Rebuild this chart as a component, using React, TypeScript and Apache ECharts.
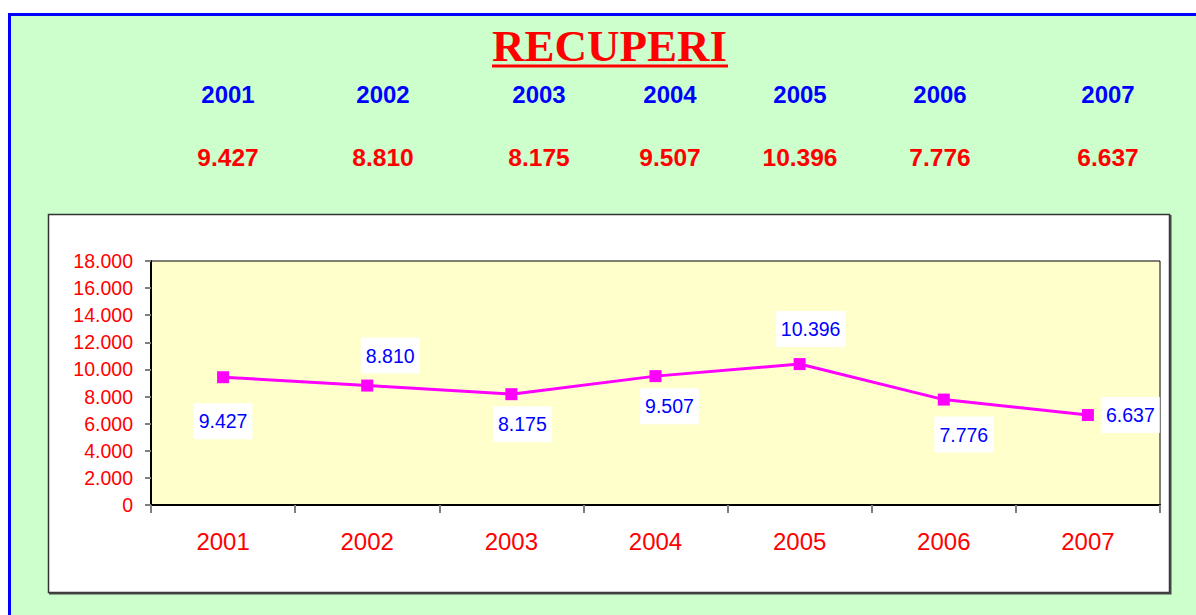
import React, { useEffect, useRef } from "react";
import * as echarts from "echarts";

const years = ["2001", "2002", "2003", "2004", "2005", "2006", "2007"];
const recuperi = [9427, 8810, 8175, 9507, 10396, 7776, 6637];
const yTicks = { min: 0, max: 18000, interval: 2000 };

// layout only: header column centres and data-label placement
const headerX = [228, 383, 539, 670, 800, 940, 1108];
const labelPlacement: { position: string; distance: number; offset: number[] }[] = [
  { position: "bottom", distance: 20, offset: [0, 0] },
  { position: "top", distance: 6, offset: [23, 0] },
  { position: "bottom", distance: 6, offset: [11, 0] },
  { position: "bottom", distance: 6, offset: [14, 0] },
  { position: "top", distance: 11, offset: [11, 0] },
  { position: "bottom", distance: 11, offset: [20, 0] },
  { position: "right", distance: 7, offset: [0, 0] },
];

const fmt = (v: number) => String(v).replace(/\B(?=(\d{3})+(?!\d))/g, ".");

export default function App() {
  const ref = useRef<HTMLDivElement>(null);
  useEffect(() => {
    if (!ref.current) return;
    const chart = echarts.init(ref.current, undefined, { renderer: "svg" });
    const sans = "Liberation Sans, Arial, sans-serif";
    const graphics: any[] = [
      {
        type: "rect",
        z: -10,
        shape: { x: 9.5, y: 14.5, width: 1300, height: 700 },
        style: { fill: "#CCFFCC", stroke: "#0000FF", lineWidth: 3 },
      },
      {
        type: "rect",
        z: -9,
        shape: { x: 48.5, y: 214.5, width: 1121, height: 378 },
        style: { fill: "#FFFFFF", stroke: "#333333", lineWidth: 1.5 },
      },
      {
        type: "polyline",
        z: -9,
        shape: { points: [[1170.5, 215], [1170.5, 593.5], [49, 593.5]] },
        style: { stroke: "#444444", lineWidth: 2, fill: null },
      },
      {
        type: "text",
        z: 10,
        x: 609.5,
        y: 46,
        style: {
          text: "RECUPERI",
          fill: "#FF0000",
          font: "bold 45px 'Liberation Serif', 'Times New Roman', serif",
          textAlign: "center",
          textVerticalAlign: "middle",
        },
      },
      {
        type: "rect",
        z: 10,
        shape: { x: 492, y: 64.5, width: 236, height: 3 },
        style: { fill: "#FF0000" },
      },
    ];
    years.forEach((y, i) => {
      graphics.push({
        type: "text",
        z: 10,
        x: headerX[i],
        y: 94,
        style: {
          text: y,
          fill: "#0000FF",
          font: `bold 24px ${sans}`,
          textAlign: "center",
          textVerticalAlign: "middle",
        },
      });
      graphics.push({
        type: "text",
        z: 10,
        x: headerX[i],
        y: 157.5,
        style: {
          text: fmt(recuperi[i]),
          fill: "#FF0000",
          font: `bold 24.5px ${sans}`,
          textAlign: "center",
          textVerticalAlign: "middle",
        },
      });
    });

    chart.setOption({
      animation: false,
      backgroundColor: "#FFFFFF",
      graphic: graphics,
      grid: {
        left: 151,
        top: 261,
        width: 1009,
        height: 244,
        show: true,
        backgroundColor: "#FFFFCC",
        borderColor: "#000000",
        borderWidth: 1,
        containLabel: false,
      },
      xAxis: {
        type: "category",
        data: years,
        boundaryGap: true,
        axisLine: { show: true, lineStyle: { color: "#000000", width: 2 } },
        axisTick: { show: true, length: 8, lineStyle: { color: "#808080", width: 2 } },
        axisLabel: { color: "#FF0000", fontSize: 24, fontFamily: sans, margin: 24 },
        splitLine: { show: false },
      },
      yAxis: {
        type: "value",
        min: yTicks.min,
        max: yTicks.max,
        interval: yTicks.interval,
        axisLine: { show: true, lineStyle: { color: "#000000", width: 2 } },
        axisTick: { show: true, length: 6, lineStyle: { color: "#808080", width: 2 } },
        axisLabel: {
          color: "#FF0000",
          fontSize: 19.5,
          fontFamily: sans,
          margin: 18,
          formatter: (v: number) => fmt(v),
        },
        splitLine: { show: false },
      },
      series: [
        {
          type: "line",
          data: recuperi.map((v, i) => ({
            value: v,
            label: {
              position: labelPlacement[i].position,
              distance: labelPlacement[i].distance,
              offset: labelPlacement[i].offset,
            },
          })),
          symbol: "rect",
          symbolSize: 12,
          lineStyle: { color: "#FF00FF", width: 3 },
          itemStyle: { color: "#FF00FF" },
          label: {
            show: true,
            color: "#0000FF",
            fontSize: 19.5,
            fontFamily: sans,
            backgroundColor: "#FFFFFF",
            padding: [8, 5],
            lineHeight: 20,
            formatter: (p: any) => fmt(p.value),
          },
        },
      ],
    });
    return () => chart.dispose();
  }, []);
  return (
    <div
      ref={ref}
      style={{ position: "fixed", left: 0, top: 0, width: 1196, height: 615 }}
    />
  );
}
